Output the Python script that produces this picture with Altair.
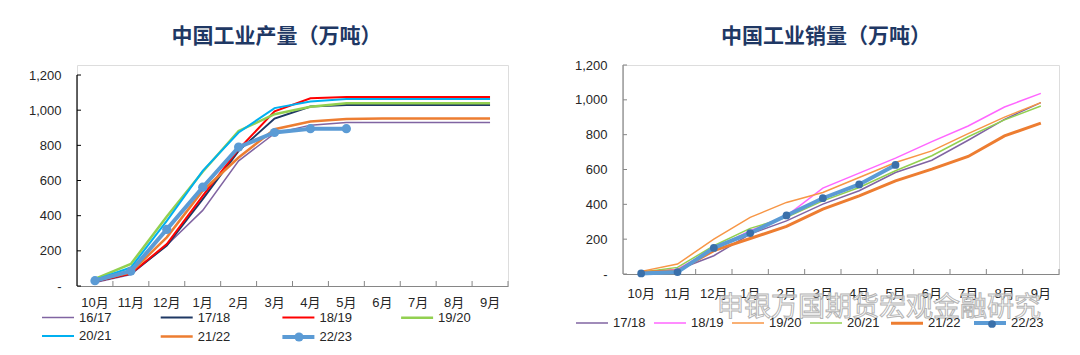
import altair as alt
import pandas as pd

FONT = "Liberation Sans, Noto Sans CJK SC"
CJK = "Noto Sans CJK SC"
TXT = "#262626"

months = ["10月", "11月", "12月", "1月", "2月", "3月", "4月", "5月", "6月", "7月", "8月", "9月"]
y_ticks = [0, 200, 400, 600, 800, 1000, 1200]

# ---- 中国工业产量 ----
prod_series = ["16/17", "17/18", "18/19", "19/20", "20/21", "21/22", "22/23"]
prod_1617 = [20, 65, 232, 430, 712, 868, 915, 930, 930, 930, 930, 930]
prod_1718 = [25, 70, 230, 494, 769, 952, 1021, 1030, 1030, 1030, 1030, 1030]
prod_1819 = [25, 70, 239, 513, 778, 994, 1068, 1075, 1075, 1075, 1075, 1075]
prod_1920 = [40, 125, 395, 650, 882, 977, 1020, 1040, 1040, 1040, 1040, 1040]
prod_2021 = [35, 105, 370, 655, 873, 1012, 1050, 1064, 1064, 1064, 1064, 1064]
prod_2122 = [30, 78, 277, 542, 731, 892, 935, 950, 952, 952, 952, 952]
prod_2223 = [30, 85, 322, 562, 790, 873, 895, 895]
prod_values = [prod_1617, prod_1718, prod_1819, prod_1920, prod_2021, prod_2122, prod_2223]
prod_colors = ["#8064A2", "#1F3864", "#FF0000", "#92D050", "#00B0F0", "#ED7D31", "#5B9BD5"]
prod_widths = [1.5, 2, 2, 2.5, 2, 2.5, 4]

# ---- 中国工业销量 ----
sales_series = ["17/18", "18/19", "19/20", "20/21", "21/22", "22/23"]
sales_1718 = [5, 25, 105, 229, 305, 401, 478, 583, 653, 768, 888, 984]
sales_1819 = [8, 28, 145, 248, 334, 493, 579, 665, 760, 850, 959, 1037]
sales_1920 = [15, 57, 200, 325, 411, 468, 554, 640, 707, 806, 901, 984]
sales_2021 = [10, 38, 162, 262, 325, 420, 497, 593, 679, 788, 885, 965]
sales_2122 = [10, 19, 134, 204, 273, 373, 449, 535, 602, 675, 793, 866]
sales_2223 = [3, 11, 150, 235, 336, 435, 514, 626]
sales_values = [sales_1718, sales_1819, sales_1920, sales_2021, sales_2122, sales_2223]
sales_colors = ["#8064A2", "#FF66FF", "#F79646", "#92D050", "#ED7D31", "#5B9BD5"]
sales_widths = [1.5, 1.5, 1.5, 1.5, 3, 4]

watermark = "申银万国期货宏观金融研究"


def long_df(series, values):
    rows = []
    for s, vals in zip(series, values):
        for m, v in zip(months, vals):
            rows.append({"series": s, "month": m, "value": v})
    return pd.DataFrame(rows)


def panel(series, values, colors, widths, marker_color, marker_size, title, w, h, ymax,
          ydom_color, title_dx, title_offset, leg, extra=None):
    df = long_df(series, values)
    xscale = alt.Scale(domain=months, type="band", paddingInner=0, paddingOuter=0)
    x_axis = alt.Axis(title=None, ticks=False, domainColor="#868686", domainWidth=1,
                      labelAngle=0, labelFont=FONT, labelFontSize=13, labelColor=TXT,
                      labelPadding=leg["xpad"], labelOverlap=False)
    x = alt.X("month:N", scale=xscale, axis=x_axis, bandPosition=0.5)
    yscale = alt.Scale(domain=[0, ymax], nice=False, zero=True)
    y_axis = alt.Axis(title=None, values=y_ticks, grid=False, ticks=False, domain=False,
                      labelExpr="datum.value == 0 ? '-' : format(datum.value, ',')",
                      labelFont=FONT, labelFontSize=13, labelColor=TXT, labelPadding=16,
                      labelOverlap=False, labelBound=False)
    y = alt.Y("value:Q", scale=yscale, axis=y_axis)

    legend = alt.Legend(title=None, orient="none", legendX=leg["x"], legendY=leg["y"],
                        direction="horizontal", columns=leg["cols"],
                        columnPadding=leg["colpad"], rowPadding=leg["rowpad"],
                        symbolType=leg["stype"], symbolSize=leg["ssize"],
                        labelOffset=leg["loff"],
                        labelFont=FONT, labelFontSize=13, labelColor=TXT, padding=0)
    color = alt.Color("series:N", scale=alt.Scale(domain=series, range=colors), legend=legend)
    sw = alt.StrokeWidth("series:N",
                         scale=alt.Scale(type="ordinal", domain=series, range=widths),
                         legend=legend)

    lines = alt.Chart(df).mark_line().encode(x=x, y=y, color=color, strokeWidth=sw)

    dot_legend = alt.Legend(title=None, orient="none", legendX=leg["dx"], legendY=leg["dy"],
                            symbolType="circle", symbolSize=marker_size, labelExpr="''",
                            symbolStrokeWidth=0, padding=0, labelOffset=0)
    pts = alt.Chart(df).transform_filter(alt.datum.series == "22/23").mark_circle(
        size=marker_size, opacity=1).encode(
        x=x, y=y,
        fill=alt.Fill("series:N", scale=alt.Scale(domain=["22/23"], range=[marker_color]),
                      legend=dot_legend))

    xt = pd.DataFrame({"month": months})
    xticks = alt.Chart(xt).mark_rule(color="#868686", strokeWidth=1).encode(
        x=alt.X("month:N", scale=xscale, axis=x_axis, bandPosition=1),
        y=alt.value(h), y2=alt.value(h - 5))
    yt = pd.DataFrame({"value": y_ticks})
    yticks = alt.Chart(yt).mark_rule(color=ydom_color, strokeWidth=1).encode(
        y=alt.Y("value:Q", scale=yscale, axis=y_axis),
        x=alt.value(0), x2=alt.value(4))
    ydomain = alt.Chart(pd.DataFrame({"a": [0]})).mark_rule(
        color=ydom_color, strokeWidth=1.2).encode(
        y=alt.YDatum(y_ticks[0], scale=yscale, axis=y_axis, type="quantitative"),
        y2=alt.datum(y_ticks[-1]), x=alt.value(0))

    layers = [xticks, yticks, ydomain, lines, pts]
    if extra is not None:
        layers.append(extra)
    return alt.layer(*layers).properties(
        width=w, height=h,
        title=alt.TitleParams(title, font=CJK, fontSize=21, fontWeight="bold",
                              color="#1F3864", anchor="middle", dx=title_dx,
                              offset=title_offset, frame="group"))


# left plot spans 10px more above its 1,200 tick than the right one
left = panel(prod_series, prod_values, prod_colors, prod_widths, "#5B9BD5", 85,
             "中国工业产量（万吨）", 431, 221, 1257, "#000000", -16, 18,
             {"xpad": 10, "x": -29, "y": 243, "cols": 4, "colpad": 43.7, "rowpad": 2,
              "stype": "M-2,0H2", "ssize": 256, "loff": 11,
              "dx": 217, "dy": 267})

wm = alt.Chart(pd.DataFrame({"t": [watermark]})).mark_text(
    font=CJK, fontSize=27, fill="white", fillOpacity=0.55, stroke="#b4b4b4",
    strokeWidth=1, align="center", baseline="middle").encode(
    text="t:N", x=alt.value(256), y=alt.value(243))

right = panel(sales_series, sales_values, sales_colors, sales_widths, "#3A70AA", 60,
              "中国工业销量（万吨）", 436, 209, 1200, "#868686", -15, 12,
              {"xpad": 13, "x": -49, "y": 240, "cols": 6, "colpad": 5, "rowpad": -4,
               "stype": "stroke", "ssize": 1024, "loff": 3,
               "dx": 364, "dy": 254},
              extra=wm)

chart = alt.hconcat(left, right, spacing=115, bounds="flush").resolve_scale(
    color="independent", strokeWidth="independent", fill="independent",
    x="independent", y="independent").configure_view(stroke=None).configure_axis(
    labelOverlap=False).configure(
    background="white", padding={"left": 19, "top": 17, "right": 5, "bottom": 5})

chart.save("out.html", embed_options={"renderer": "svg", "actions": False})
